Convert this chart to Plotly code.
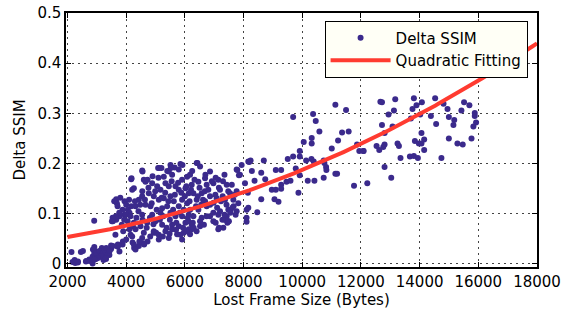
import numpy as np
import plotly.graph_objects as go

# Lost frame size (bytes) and the resulting SSIM drop for each lost frame
frame_bytes = [
    # small frames
    2137, 2171, 2263, 2457, 2354, 2244, 2357, 2527, 2629, 2743, 2857, 2911, 2914, 2971, 2857,
    3029, 3086, 3143, 3200, 3257, 3314, 3314, 3429, 3486, 3486, 3171, 2914, 3371, 3228, 3086, 2971,
    2868, 2981, 3094, 3208, 3265, 3321, 3151, 3038, 2924, 2754, 2641, 3378, 3435, 3299,
    # 3500 - 4200
    3714, 3771, 3634, 3548, 3718, 3888, 4002, 4115, 4228,
    3661, 3684, 3945, 4002, 4058, 4172, 4115, 3945, 3775, 3661, 3548, 4172,
    3594, 3707, 3877, 3990, 3934, 3764, 3650, 3537, 3514,
    3850, 4050, 3800, 4100, 3900, 4150, 3707, 3877, 4218, 4272, 4612, 4728, 5110, 4940,
    # 4200 - 6100
    4546, 5090, 5203, 5510, 5850, 5793, 5453, 5566, 5283, 6077, 5906, 4602, 4659, 4183, 4205, 4262,
    4886, 5056, 5169, 5339, 5453, 5680, 5793, 6020, 6133, 4772, 4546, 4432, 4942, 5112, 5283, 5509,
    5623, 5906, 6077, 4319, 4659, 4829, 5226, 5396, 5793, 5963, 4149, 4546, 4886, 5169, 5509, 5680,
    5906, 6133,
    4262, 4489, 4716, 4999, 5226, 5566, 5793, 6020, 4319, 4602, 4942, 5339, 5566, 5736, 5963, 6133,
    4205, 4546, 5112, 5453, 5906, 4262, 4432, 4319, 4602,
    # 6100 - 8200
    6404, 6518, 7935, 8162, 7765, 7878, 6177, 6858, 7141, 7425, 6688, 6461, 6234, 6744, 6971, 7198,
    7538, 7765, 6291, 6574, 6858, 7085, 7368, 7652, 7822, 6404, 6688, 8049, 8105, 8162,
    6177, 6461, 6744, 6971, 7198, 7481, 7765, 6291, 6574, 6858, 7141, 7425, 6121, 6234, 6518, 6971,
    7368, 7481, 7141, 7311, 6518, 6234, 6177,
    7730, 7789, 7843, 7660, 7560, 7450, 7500, 7390, 7163, 7050, 7280,
    # dense core
    4350, 4420, 4480, 4560, 4640, 4700, 4760, 4810, 4870, 4930, 4990, 5040, 5100, 5150, 5210, 5270,
    5330, 5380, 5440, 5490, 5550, 5600, 5660, 5710, 5770, 5830, 5880, 5940, 6000, 6050, 6100, 6160,
    6210, 6270, 6330, 6380, 6440, 6500, 6560, 6620, 6680, 6740, 6800, 6860, 6920, 6980, 7040, 7100,
    7160, 7230, 7290, 7350, 7420, 7480, 7550, 7620, 7700, 5020, 5250, 5480, 5700, 5850, 6050, 6300,
    6400, 6650, 4450, 4820, 4300, 4550, 4900, 5400, 5650, 6250, 6700, 7050, 7300, 7600, 7350,
    4557, 4728, 5122, 5520, 5918, 6428,
    # 8000 - 12000
    11129, 11493, 9690, 10370, 10460, 10585, 11357, 11582, 11221, 10323, 10323, 10051, 11006, 11867,
    11945, 12091, 9915, 9915, 9690, 9507, 10133, 10313, 10391, 10731, 10755, 10813, 10823, 8691, 8240,
    8195, 9779, 9915, 9099, 9282, 8283, 8603, 8739, 8375, 9463, 9599, 10188, 10415, 10731, 11129,
    11187, 9282, 9282, 8963, 9099, 9871, 11765, 8147, 8603, 9055, 9191, 8467, 8103, 8103,
    # 12000 - 16000
    13805, 13169, 14529, 12717, 14077, 13893, 13757, 13125, 12941, 15515, 15696, 14815, 14951, 15424,
    15879, 15879, 14384, 14021, 13703, 14996, 15180, 15923, 15832, 15152, 14563, 12717, 13078, 12808,
    14063, 14996, 15768, 15288, 15469, 13839, 14155, 13975, 14063, 13247, 13295, 12805, 12761, 12533,
    12625, 14155, 12081, 13349, 13669, 13805, 13941, 14743, 12805, 13033, 12217, 12663,
]

delta_ssim = [
    0.024, 0.004, 0.002, 0.024, 0.003, 0.008, 0.005, 0.026, 0.005, 0.009, 0.015, 0.086, 0.022, 0.010, 0.001,
    0.018, 0.025, 0.015, 0.022, 0.015, 0.025, 0.010, 0.018, 0.030, 0.037, 0.032, 0.034, 0.020, 0.008, 0.014, 0.025,
    0.029, 0.022, 0.026, 0.022, 0.029, 0.032, 0.016, 0.012, 0.009, 0.006, 0.006, 0.019, 0.026, 0.012,
    0.035, 0.025, 0.058, 0.036, 0.039, 0.045, 0.049, 0.069, 0.075,
    0.129, 0.121, 0.125, 0.118, 0.108, 0.115, 0.102, 0.098, 0.095, 0.088, 0.085, 0.169,
    0.125, 0.115, 0.108, 0.098, 0.088, 0.102, 0.095, 0.092, 0.085,
    0.078, 0.085, 0.132, 0.128, 0.065, 0.058, 0.035, 0.039, 0.043, 0.032, 0.039, 0.045, 0.058, 0.062,
    0.186, 0.191, 0.191, 0.197, 0.199, 0.188, 0.184, 0.178, 0.174, 0.174, 0.168, 0.168, 0.164, 0.171, 0.148, 0.151,
    0.161, 0.155, 0.148, 0.161, 0.155, 0.155, 0.148, 0.151, 0.141, 0.141, 0.135, 0.128, 0.135, 0.128, 0.131, 0.135,
    0.125, 0.128, 0.121, 0.115, 0.118, 0.115, 0.111, 0.115, 0.115, 0.108, 0.095, 0.098, 0.098, 0.102, 0.102, 0.095,
    0.095, 0.098,
    0.082, 0.075, 0.082, 0.085, 0.078, 0.078, 0.075, 0.082, 0.069, 0.062, 0.065, 0.065, 0.069, 0.059, 0.062, 0.069,
    0.055, 0.052, 0.049, 0.052, 0.049, 0.039, 0.036, 0.029, 0.041,
    0.201, 0.194, 0.197, 0.204, 0.188, 0.178, 0.178, 0.184, 0.168, 0.158, 0.171, 0.164, 0.158, 0.158, 0.161, 0.148,
    0.141, 0.145, 0.141, 0.141, 0.135, 0.131, 0.128, 0.128, 0.121, 0.128, 0.125, 0.161, 0.108, 0.112,
    0.108, 0.108, 0.115, 0.102, 0.105, 0.108, 0.105, 0.095, 0.092, 0.095, 0.098, 0.095, 0.085, 0.078, 0.085, 0.085,
    0.088, 0.085, 0.069, 0.072, 0.075, 0.069, 0.059,
    0.098, 0.187, 0.177, 0.115, 0.108, 0.082, 0.085, 0.088, 0.072, 0.082, 0.088,
    0.092, 0.105, 0.118, 0.088, 0.128, 0.072, 0.152, 0.092, 0.121, 0.079, 0.145, 0.108, 0.172, 0.088, 0.132, 0.095,
    0.142, 0.072, 0.125, 0.088, 0.165, 0.108, 0.138, 0.082, 0.162, 0.102, 0.142, 0.072, 0.135, 0.155, 0.092, 0.125,
    0.148, 0.082, 0.168, 0.115, 0.135, 0.152, 0.118, 0.128, 0.145, 0.095, 0.148, 0.118, 0.165, 0.122, 0.138, 0.112,
    0.152, 0.125, 0.135, 0.098, 0.118, 0.145, 0.102, 0.112, 0.138, 0.062, 0.055, 0.060, 0.068, 0.058, 0.065, 0.072,
    0.065, 0.078, 0.045, 0.055, 0.125, 0.145, 0.175, 0.185, 0.192, 0.185, 0.178, 0.172, 0.165, 0.158, 0.178,
    0.184, 0.168, 0.191, 0.191, 0.197, 0.201,
    0.317, 0.307, 0.293, 0.299, 0.285, 0.264, 0.262, 0.264, 0.246, 0.251, 0.240, 0.243, 0.230, 0.238,
    0.225, 0.225, 0.225, 0.214, 0.214, 0.209, 0.206, 0.209, 0.204, 0.206, 0.201, 0.193, 0.187, 0.206, 0.206,
    0.203, 0.190, 0.177, 0.187, 0.187, 0.185, 0.182, 0.169, 0.166, 0.164, 0.166, 0.166, 0.166, 0.172, 0.180,
    0.180, 0.158, 0.150, 0.148, 0.148, 0.142, 0.156, 0.142, 0.129, 0.129, 0.124, 0.103, 0.092, 0.084,
    0.330, 0.328, 0.330, 0.322, 0.322, 0.316, 0.309, 0.306, 0.298, 0.322, 0.316, 0.319, 0.309, 0.306,
    0.301, 0.295, 0.295, 0.298, 0.290, 0.293, 0.287, 0.282, 0.274, 0.277, 0.279, 0.277, 0.274, 0.261,
    0.261, 0.250, 0.250, 0.240, 0.238, 0.245, 0.248, 0.240, 0.240, 0.240, 0.235, 0.238, 0.233, 0.235,
    0.227, 0.227, 0.225, 0.211, 0.214, 0.215, 0.211, 0.211, 0.193, 0.172, 0.161, 0.323,
]

# quadratic fit coefficients (highest power first), x in bytes
fit_coeffs = [9.3e-10, 5.5e-6, 0.0392]
fit_span = [2000, 18000]

x_ticks = [2000, 4000, 6000, 8000, 10000, 12000, 14000, 16000, 18000]
x_tick_text = ["2000", "4000", "6000", "8000", "10000", "12000", "14000", "16000", "18000"]
y_ticks = [0, 0.1, 0.2, 0.3, 0.4, 0.5]
y_tick_text = ["0", "0.1", "0.2", "0.3", "0.4", "0.5"]

fit_x = np.linspace(fit_span[0], fit_span[1], 200)
fit_y = np.polyval(fit_coeffs, fit_x)

fig = go.Figure()
fig.add_trace(go.Scatter(
    x=frame_bytes, y=delta_ssim, mode="markers", name="Delta SSIM",
    marker=dict(size=6, color="#3b2a8c", line=dict(width=0)),
))
fig.add_trace(go.Scatter(
    x=fit_x, y=fit_y, mode="lines", name="Quadratic Fitting",
    line=dict(color="#ff3b30", width=4),
))

font = dict(family="DejaVu Sans, Arial, sans-serif", size=15, color="black")
axis_common = dict(
    showline=True, linecolor="black", linewidth=1.5, mirror="ticks",
    ticks="inside", ticklen=5, tickcolor="black", tickwidth=1,
    showgrid=True, gridcolor="#444444", gridwidth=1, griddash="2px,4px",
    zeroline=False, tickfont=font, automargin=False,
)

fig.update_layout(
    width=565, height=322,
    margin=dict(l=66, r=28, t=13, b=55),
    paper_bgcolor="white", plot_bgcolor="white",
    font=font,
    showlegend=True,
    legend=dict(
        x=0.549, y=0.97, xanchor="left", yanchor="top",
        bgcolor="#fffff6", bordercolor="black", borderwidth=1,
        font=font, itemwidth=60, tracegroupgap=0,
    ),
    xaxis=dict(
        range=[1950, 18000], tickvals=x_ticks, ticktext=x_tick_text,
        title=dict(text="Lost Frame Size (Bytes)", font=font, standoff=4),
        **axis_common,
    ),
    yaxis=dict(
        range=[-0.006, 0.5], tickvals=y_ticks, ticktext=y_tick_text,
        title=dict(text="Delta SSIM", font=font, standoff=8),
        **axis_common,
    ),
)

fig.write_html("out.html")
